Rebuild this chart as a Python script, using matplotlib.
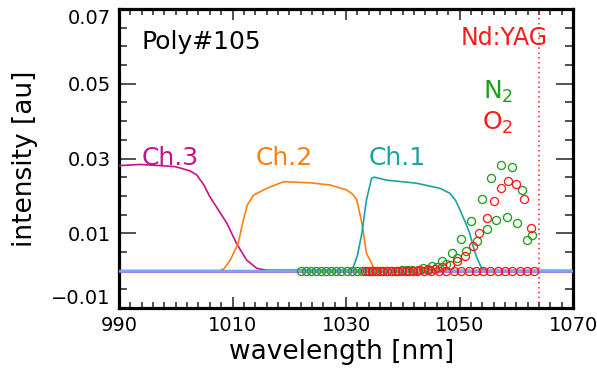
import matplotlib
matplotlib.use("Agg")
import matplotlib.pyplot as plt
from matplotlib.ticker import MultipleLocator, FixedLocator

plt.rcParams['font.family'] = ['DejaVu Sans']
plt.rcParams['mathtext.fontset'] = 'dejavusans'
plt.rcParams['mathtext.default'] = 'regular'

# ---------------- data ----------------
ch3_wl = [990, 993.7, 997.2, 1000, 1002.5, 1003.7, 1005, 1006, 1009, 1010.7, 1012.5, 1014.3, 1016, 1070]
ch3_val = [0.0281, 0.0284, 0.0281, 0.0278, 0.0267, 0.0256, 0.0228, 0.0198, 0.0127, 0.0073, 0.0028, 0.0006, 0.0001, 0.0]

ch2_wl = [990, 1007.8, 1008.5, 1009.6, 1011.0, 1011.9, 1012.6, 1013.7, 1016.0, 1019.0, 1023.7, 1027.2,
          1030.1, 1031.2, 1031.9, 1032.8, 1033.6, 1034.8, 1036, 1070]
ch2_val = [0.0, 0.0, 0.0005, 0.0028, 0.0073, 0.0135, 0.0175, 0.0202, 0.0220, 0.0238, 0.0235, 0.0229,
           0.0216, 0.0204, 0.0189, 0.0127, 0.0047, 0.0010, 0.0, 0.0]

ch1_wl = [990, 1030.8, 1031.3, 1032.0, 1032.8, 1033.6, 1034.5, 1035.0, 1037.2, 1042.4, 1046.6, 1048.3,
          1049.3, 1050.1, 1051.0, 1051.8, 1052.5, 1053.0, 1053.9, 1055, 1070]
ch1_val = [0.0, 0.0, 0.001, 0.004, 0.010, 0.0189, 0.0247, 0.0250, 0.0242, 0.0234, 0.0220, 0.0207,
           0.0188, 0.0162, 0.013, 0.0100, 0.006, 0.0037, 0.0006, 0.0, 0.0]

base_wl = [990, 1070]
base_val = [0.0, 0.0]

n2_wl = [1022.0, 1022.9, 1023.8, 1024.7, 1025.6, 1026.5, 1027.4, 1028.3, 1029.2, 1030.1, 1031.0, 1031.9,
         1032.8, 1033.7, 1034.6, 1035.5, 1036.4, 1037.2, 1038.1, 1039.0, 1039.9, 1040.8, 1041.7, 1042.6,
         1043.5, 1044.4, 1045.2, 1046.0, 1046.9, 1047.7, 1048.6, 1049.5, 1050.3, 1051.2, 1052.1, 1053.0,
         1054.0, 1054.8, 1055.6, 1056.5, 1057.4, 1058.3, 1059.3, 1060.1, 1061.1, 1061.9, 1062.8]
n2_val = [0.0, 0.0, 0.0, 0.0, 0.0, 0.0, 0.0, 0.0, 0.0, 0.0, 0.0, 0.0,
          0.0, 0.0, 0.0, 0.0, 0.0, 0.0, 0.0, 0.0, 0.0001, 0.0001, 0.0002, 0.0003,
          0.0008, 0.0005, 0.0013, 0.0009, 0.0026, 0.0018, 0.0048, 0.0033, 0.0084, 0.0053, 0.0134, 0.0080,
          0.0192, 0.0111, 0.0249, 0.0135, 0.0283, 0.0144, 0.0278, 0.0127, 0.0216, 0.0082, 0.0095]

o2_wl = [1033.35, 1034.0, 1034.65, 1035.3, 1035.95, 1036.6, 1037.25, 1037.9, 1038.55, 1039.2, 1039.85,
         1040.5, 1041.15, 1041.8, 1042.45, 1043.1, 1043.75, 1044.4, 1045.05, 1045.7, 1046.35, 1047.0,
         1047.65, 1048.3, 1048.95, 1049.6, 1050.3, 1051.0, 1051.65, 1052.3, 1052.9, 1053.5, 1054.15,
         1054.8, 1055.45, 1056.1, 1056.75, 1057.4, 1058.0, 1058.6, 1059.25, 1059.9, 1060.6, 1061.3,
         1061.95, 1062.6, 1063.2]
o2_val = [0.0, 0.0, 0.0, 0.0, 0.0, 0.0, 0.0, 0.0, 0.0, 0.0, 0.0,
          0.0, 0.0, 0.0, 0.0, 0.0001, 0.0, 0.0002, 0.0, 0.0004, 0.0, 0.0009,
          0.0, 0.0015, 0.0, 0.0027, 0.0, 0.0040, 0.0, 0.0066, 0.0, 0.0102, 0.0,
          0.0142, 0.0, 0.0185, 0.0, 0.0220, 0.0, 0.0240, 0.0, 0.0232, 0.0, 0.0191,
          0.0, 0.0115, 0.0]

laser_wl = 1064.0
x_ticks = [990, 1010, 1030, 1050, 1070]
y_ticks = [-0.01, 0.01, 0.03, 0.05, 0.07]
y_tick_labels = ['\u22120.01', '0.01', '0.03', '0.05', '0.07']

# ---------------- colours ----------------
c_ch3 = '#C8118C'
c_ch2 = '#FF7F12'
c_ch1 = '#19A3A3'
c_n2 = '#1E9E1E'
c_o2 = '#FF1A1A'

fig = plt.figure(figsize=(5.97, 3.74), dpi=100)
ax = fig.add_axes([119/597, 1-308/374, 454/597, 299/374])

ax.plot(ch3_wl, ch3_val, color=c_ch3, lw=1.2, zorder=3)
ax.plot(ch2_wl, ch2_val, color=c_ch2, lw=1.2, zorder=3)
ax.plot(ch1_wl, ch1_val, color=c_ch1, lw=1.2, zorder=3)
ax.plot(base_wl, base_val, color='#9a6fe0', lw=2.0, zorder=3.5)
ax.plot(base_wl, base_val, color='#6fb6f2', lw=1.2, zorder=3.6)

ax.plot(n2_wl, n2_val, ls='none', marker='o', ms=5.8, mfc='none', mec=c_n2, mew=0.95, zorder=4)
ax.plot(o2_wl, o2_val, ls='none', marker='o', ms=5.8, mfc='none', mec=c_o2, mew=0.95, zorder=5)

ax.axvline(laser_wl, color=c_o2, lw=1.1, ls=(0, (1, 2.2)), zorder=2)

# texts
ax.text(994.0, 0.0592, 'Poly#105', fontsize=18, color='black', ha='left', va='baseline')
ax.text(994.0, 0.0283, 'Ch.3', fontsize=18, color=c_ch3, ha='left', va='baseline')
ax.text(1014.0, 0.0283, 'Ch.2', fontsize=18, color=c_ch2, ha='left', va='baseline')
ax.text(1033.9, 0.0283, 'Ch.1', fontsize=18, color=c_ch1, ha='left', va='baseline')
ax.text(1057.9, 0.0604, 'Nd:YAG', fontsize=17, color=c_o2, ha='center', va='baseline')
ax.text(1054.1, 0.0461, 'N$_{2}$', fontsize=18, color=c_n2, ha='left', va='baseline')
ax.text(1053.9, 0.0376, 'O$_{2}$', fontsize=18, color=c_o2, ha='left', va='baseline')

ax.set_xlim(990, 1070)
ax.set_ylim(-0.01, 0.07)
ax.xaxis.set_major_locator(FixedLocator(x_ticks))
ax.xaxis.set_minor_locator(MultipleLocator(2))
ax.yaxis.set_major_locator(FixedLocator(y_ticks))
ax.yaxis.set_minor_locator(MultipleLocator(0.005))
ax.set_yticklabels(y_tick_labels)
ax.set_xticklabels([str(v) for v in x_ticks])

ax.tick_params(axis='both', which='both', direction='in', top=True, right=True, width=1.1, color='#222222')
ax.tick_params(axis='x', which='major', length=8, labelsize=14, pad=6)
ax.tick_params(axis='x', which='minor', length=4)
ax.tick_params(axis='y', which='major', length=12, labelsize=14, pad=6)
ax.tick_params(axis='y', which='minor', length=6)

labs = ax.get_yticklabels()
labs[0].set_va('bottom')
labs[-1].set_va('top')

for s in ax.spines.values():
    s.set_linewidth(2.3)
    s.set_color('black')

ax.set_xlabel('wavelength [nm]', fontsize=19)
ax.set_ylabel('intensity [au]', fontsize=19)
ax.xaxis.set_label_coords(0.49, -0.105)
ax.yaxis.set_label_coords(-0.178, 0.5)

fig.savefig('out.png', dpi=100)
